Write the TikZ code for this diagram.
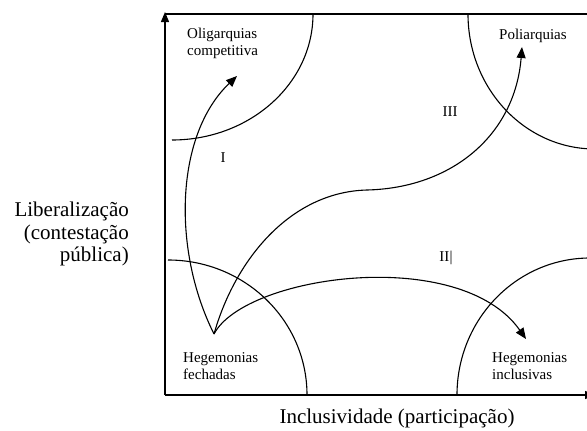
\documentclass[tikz,border=0pt]{standalone}
\usepackage{fontspec}
\setmainfont{Liberation Serif}
\usetikzlibrary{arrows.meta}
\begin{document}
\begin{tikzpicture}[x=1pt,y=-1pt,
  lab/.style={font=\fontsize{15}{17.5}\selectfont, inner sep=0pt, align=left},
  big/.style={font=\fontsize{21}{22.5}\selectfont, inner sep=0pt},
  ax/.style={line width=1.3pt},
  arc/.style={line width=1.1pt},
  conn/.style={line width=1.1pt, -{Triangle[length=11pt,width=9pt]}}]
\useasboundingbox (0,0) rectangle (587,431);
\clip (0,0) rectangle (587,431);
% axes
\coordinate (o) at (165,395);
\coordinate (ytop) at (165,12);
\coordinate (xend) at (595,395);
\coordinate (tl) at (165,14);
\coordinate (tr) at (595,14);
\draw[ax,-{Triangle[length=10pt,width=8pt]}] (o) -- (ytop);
\draw[ax,-{Triangle[length=10pt,width=8pt]}] (o) -- (xend);
\draw[ax] (tl) -- (tr);
% arcs
\draw[arc] (313,14) arc[start angle=0, end angle=90, x radius=141, y radius=126];
\draw[arc] (468,14) arc[start angle=180, end angle=90, x radius=127, y radius=135];
\draw[arc] (168,260) arc[start angle=270, end angle=360, x radius=139, y radius=135];
\draw[arc] (457,395) arc[start angle=180, end angle=270, x radius=133, y radius=137];
% labels
\node[lab, anchor=north west] (olig) at (187,27.5) {Oligarquias\\competitiva};
\node[lab, anchor=north west] (poli) at (499,29) {Poliarquias};
\node[lab, anchor=north west] (hf) at (183,352) {Hegemonias\\fechadas};
\node[lab, anchor=north west] (hi) at (492,352) {Hegemonias\\inclusivas};
\node[lab] (r1) at (223,158) {I};
\node[lab] (r3) at (450,112) {III};
\node[lab] (r2) at (446,258) {II\kern0.5pt|};
\node[big] (xl) at (397,418) {Inclusividade (participação)};
\node[big, align=right, anchor=east] (yl) at (129,234) {Liberalização\\(contestação\\pública)};
% connectors
\coordinate (s) at (214,334);
\coordinate (eI) at (237,76);
\coordinate (eIII) at (522,47);
\coordinate (eII) at (526,339);
\coordinate (mid) at (367,190);
\draw[conn] (s) .. controls (172,250) and (175,135) .. (eI);
\draw[conn] (s) .. controls (235,260) and (290,192) .. (mid) .. controls (452,188) and (515,135) .. (eIII);
\draw[conn] (s) .. controls (245,275) and (460,245) .. (eII);
\end{tikzpicture}
\end{document}
